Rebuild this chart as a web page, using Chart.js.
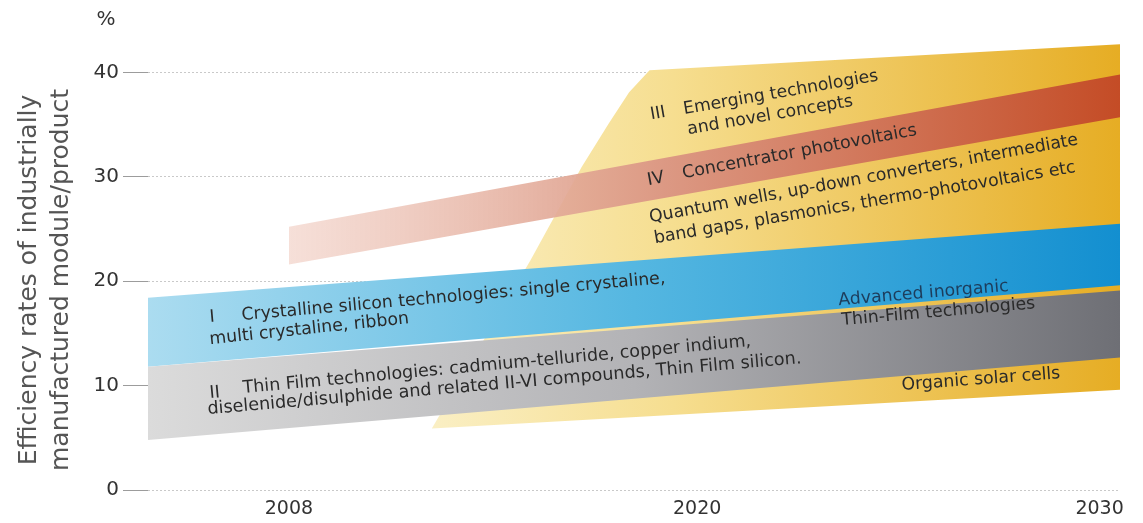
<!DOCTYPE html>
<html>
<head>
<meta charset="utf-8">
<script src="https://cdn.jsdelivr.net/npm/chart.js@4.4.1/dist/chart.umd.min.js"></script>
<style>
  html, body { margin: 0; padding: 0; background: #fff; }
  #wrap { width: 1143px; height: 523px; position: relative; }
</style>
</head>
<body>
<div id="wrap"><canvas id="chart"></canvas></div>
<script>
// tick labels
const yearTicks = [2008, 2020, 2030];
const percentTicks = [0, 10, 20, 30, 40];

// band edges, year -> efficiency %
const thinFilmYears = [2004, 2030.5];
const thinFilmLow = [4.8, 12.7];
const thinFilmHigh = [11.8, 19.1];

const crystallineYears = [2004, 2030.5];
const crystallineLow = [11.8, 19.6];
const crystallineHigh = [18.4, 25.5];

const concentratorYears = [2008, 2030.5];
const concentratorLow = [21.6, 35.7];
const concentratorHigh = [25.2, 39.8];

const emergingLowYears = [2012.2, 2030.5];
const emergingLow = [5.9, 9.6];
const emergingHighYears = [2012.2, 2015.1, 2016.6, 2017.4, 2018.0, 2018.6, 2030.5];
const emergingHigh = [5.9, 22.0, 30.9, 35.1, 38.1, 40.2, 42.7];

// labels inside the bands
const bandNotes = [
  { text: 'III', year: 2018.65, pct: 35.5, angle: -10, size: 17 },
  { text: 'Emerging technologies', year: 2019.62, pct: 36.0, angle: -9.8, size: 17.2 },
  { text: 'and novel concepts', year: 2019.74, pct: 34.07, angle: -9.8, size: 17.2 },
  { text: 'IV', year: 2018.56, pct: 29.19, angle: -10.5, size: 17.5 },
  { text: 'Concentrator photovoltaics', year: 2019.59, pct: 29.86, angle: -10.5, size: 17.5 },
  { text: 'Quantum wells, up-down converters, intermediate', year: 2018.62, pct: 25.65, angle: -10.3, size: 17.3 },
  { text: 'band gaps, plasmonics, thermo-photovoltaics etc', year: 2018.76, pct: 23.64, angle: -9.6, size: 17.3 },
  { text: 'I', year: 2005.76, pct: 16.08, angle: -5, size: 17.3 },
  { text: 'Crystalline silicon technologies: single crystaline,', year: 2006.67, pct: 16.27, angle: -5, size: 17.3 },
  { text: 'multi crystaline, ribbon', year: 2005.76, pct: 13.97, angle: -6, size: 17.3 },
  { text: 'II', year: 2005.76, pct: 8.8, angle: -5.3, size: 17.5 },
  { text: 'Thin Film technologies: cadmium-telluride, copper indium,', year: 2006.7, pct: 9.28, angle: -5.3, size: 17.5 },
  { text: 'diselenide/disulphide and related II-VI compounds, Thin Film silicon.', year: 2005.7, pct: 7.27, angle: -4.9, size: 17.6 },
  { text: 'Advanced inorganic', year: 2023.52, pct: 17.7, angle: -4.8, size: 17.3, color: '#1d3d5c' },
  { text: 'Thin-Film technologies', year: 2023.6, pct: 15.79, angle: -5, size: 17.3 },
  { text: 'Organic solar cells', year: 2025.09, pct: 9.57, angle: -4.3, size: 17.3 }
];

const pts = (xs, ys) => xs.map((x, i) => ({ x: x, y: ys[i] }));

// the time axis of the original is uneven (2008-2020 is tighter than 2020-2030)
const axisYears = [2004, 2008, 2020, 2030, 2030.5];
const axisStops = [0, 0.145, 0.565, 0.979, 1];

class PiecewiseScale extends Chart.LinearScale {
  getPixelForValue(value) {
    if (value === null || value === undefined || isNaN(value)) return NaN;
    let i = 1;
    while (i < axisYears.length - 1 && value > axisYears[i]) i++;
    const t = (value - axisYears[i - 1]) / (axisYears[i] - axisYears[i - 1]);
    return this.getPixelForDecimal(axisStops[i - 1] + t * (axisStops[i] - axisStops[i - 1]));
  }
  getValueForPixel(pixel) {
    const d = this.getDecimalForPixel(pixel);
    let i = 1;
    while (i < axisStops.length - 1 && d > axisStops[i]) i++;
    const t = (d - axisStops[i - 1]) / (axisStops[i] - axisStops[i - 1]);
    return axisYears[i - 1] + t * (axisYears[i] - axisYears[i - 1]);
  }
}
PiecewiseScale.id = 'piecewise';
PiecewiseScale.defaults = Chart.LinearScale.defaults;
Chart.register(PiecewiseScale);

// horizontal gradient between two years
const gradient = (fromYear, toYear, stops) => (ctx) => {
  const chart = ctx.chart;
  if (!chart.chartArea || !chart.scales.x) return stops[0][1];
  const x0 = chart.scales.x.getPixelForValue(fromYear);
  const x1 = chart.scales.x.getPixelForValue(toYear);
  const g = chart.ctx.createLinearGradient(x0, 0, x1, 0);
  stops.forEach(s => g.addColorStop(s[0], s[1]));
  return g;
};

const edge = (data) => ({
  data: data, fill: false, borderWidth: 0, pointRadius: 0, backgroundColor: 'transparent'
});
const band = (data, lowIndex, bg) => ({
  data: data, fill: lowIndex, borderWidth: 0, pointRadius: 0, backgroundColor: bg
});

const notePlugin = {
  id: 'notes',
  afterDatasetsDraw(chart) {
    const { ctx, scales: { x, y } } = chart;
    bandNotes.forEach(n => {
      ctx.save();
      ctx.translate(x.getPixelForValue(n.year), y.getPixelForValue(n.pct));
      ctx.rotate(n.angle * Math.PI / 180);
      ctx.font = n.size + 'px "DejaVu Sans"';
      ctx.fillStyle = n.color || '#2a2a2a';
      ctx.textBaseline = 'alphabetic';
      ctx.fillText(n.text, 0, 0);
      ctx.restore();
    });
  },
  afterDraw(chart) {
    const { ctx } = chart;
    ctx.save();
    ctx.fillStyle = '#333';
    ctx.font = '20px "DejaVu Sans"';
    ctx.textAlign = 'center';
    ctx.textBaseline = 'middle';
    ctx.fillText('%', 106, 20);
    // axis title, two lines turned upward
    ctx.translate(0, 280);
    ctx.rotate(-Math.PI / 2);
    ctx.fillStyle = '#555';
    ctx.font = '25px "DejaVu Sans"';
    ctx.fillText('Efficiency rates of industrially', 0, 29);
    ctx.fillText('manufactured module/product', 0, 61);
    ctx.restore();
  }
};

new Chart(document.getElementById('chart'), {
  type: 'line',
  data: {
    datasets: [
      edge(pts(thinFilmYears, thinFilmLow)),
      band(pts(thinFilmYears, thinFilmHigh), 0,
        gradient(2004, 2030.5, [[0, '#dbdbdb'], [0.5, '#b3b3b6'], [1, '#6e6f75']])),
      edge(pts(crystallineYears, crystallineLow)),
      band(pts(crystallineYears, crystallineHigh), 2,
        gradient(2004, 2030.5, [[0, '#abdcf0'], [0.5, '#55b7e1'], [1, '#138fd0']])),
      edge(pts(concentratorYears, concentratorLow)),
      band(pts(concentratorYears, concentratorHigh), 4,
        gradient(2008, 2030.5, [[0, 'rgba(242,210,200,0.7)'], [0.45, '#dc9984'], [1, '#c44c26']])),
      edge(pts(emergingLowYears, emergingLow)),
      band(pts(emergingHighYears, emergingHigh), 6,
        gradient(2012.2, 2030.5, [[0, '#faefc4'], [0.35, '#f6de90'], [1, '#e6ad24']]))
    ]
  },
  options: {
    responsive: true,
    maintainAspectRatio: false,
    animation: false,
    layout: { padding: { top: 41, right: 23, left: 0, bottom: 0 } },
    plugins: { legend: { display: false }, tooltip: { enabled: false } },
    elements: { line: { tension: 0 } },
    scales: {
      x: {
        type: 'piecewise',
        min: 2004,
        max: 2030.5,
        grid: { display: false, drawTicks: false },
        border: { display: false },
        afterBuildTicks: (s) => { s.ticks = yearTicks.map(v => ({ value: v })); },
        afterFit: (s) => { s.height = 33; },
        ticks: {
          autoSkip: false, maxRotation: 0, padding: 8,
          color: '#333', font: { family: 'DejaVu Sans', size: 19 },
          callback: (v) => String(v)
        }
      },
      y: {
        min: 0,
        max: 43,
        afterBuildTicks: (s) => { s.ticks = percentTicks.map(v => ({ value: v })); },
        afterFit: (s) => { s.width = 148; },
        grid: { color: '#c9c9c9', tickColor: '#9c9c9c', tickLength: 25, lineWidth: 1 },
        border: { display: false, dash: [2, 2] },
        ticks: {
          padding: 4, color: '#333', font: { family: 'DejaVu Sans', size: 20 }
        }
      }
    }
  },
  plugins: [notePlugin]
});
</script>
</body>
</html>
